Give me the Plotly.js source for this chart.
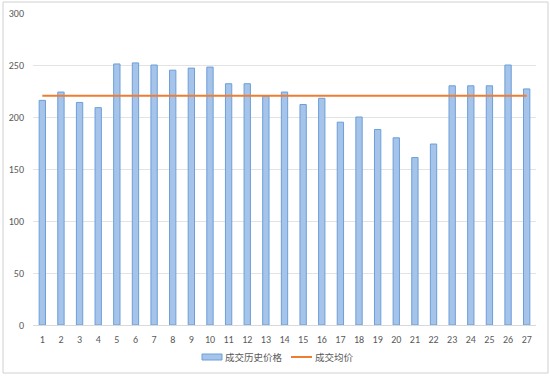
<!DOCTYPE html>
<html>
<head>
<meta charset="utf-8">
<script src="https://cdn.plot.ly/plotly-3.0.1.min.js"></script>
<style>
html,body{margin:0;padding:0;background:#fff;}
#chart{width:550px;height:376px;}
</style>
</head>
<body>
<div id="chart"></div>
<script>
const categories = ["1","2","3","4","5","6","7","8","9","10","11","12","13","14","15","16","17","18","19","20","21","22","23","24","25","26","27"];
const historyPrice = [216,224,214,209,251,252,250,245,247,248,232,232,220,224,212,218,195,200,188,180,161,174,230,230,230,250,227];
const avgPrice = [220.5,220.5,220.5,220.5,220.5,220.5,220.5,220.5,220.5,220.5,220.5,220.5,220.5,220.5,220.5,220.5,220.5,220.5,220.5,220.5,220.5,220.5,220.5,220.5,220.5,220.5,220.5];
const yTicks = [0,50,100,150,200,250,300];
const seriesNames = ["成交历史价格","成交均价"];

const font = "Calibri, Carlito, 'Liberation Sans', 'Noto Sans CJK SC', sans-serif";

const traces = [
  {
    type: "bar",
    x: categories,
    y: historyPrice,
    name: seriesNames[0],
    width: 0.34,
    marker: {color: "#a6c4ea", line: {color: "#6b9fd9", width: 1}},
    showlegend: false,
    hoverinfo: "x+y"
  },
  {
    type: "scatter",
    mode: "lines",
    x: categories,
    y: avgPrice,
    name: seriesNames[1],
    line: {color: "#ed7d31", width: 2},
    showlegend: false
  }
];

const px = v => (v - 33) / 503;
const py = v => (325 - v) / 312;

const layout = {
  width: 550,
  height: 376,
  margin: {l: 33, r: 14, t: 13, b: 51},
  paper_bgcolor: "#ffffff",
  plot_bgcolor: "#ffffff",
  font: {family: font, size: 10, color: "#595959"},
  xaxis: {
    type: "category",
    tickvals: categories,
    ticktext: categories,
    showgrid: false,
    zeroline: false,
    showline: true,
    linecolor: "#d9d9d9",
    linewidth: 1,
    ticks: "",
    ticklabelstandoff: 5,
    tickfont: {family: font, size: 10, color: "#595959"},
    range: [-0.5, 26.5],
    fixedrange: true
  },
  yaxis: {
    range: [0, 300],
    tickvals: yTicks,
    ticktext: yTicks.map(String),
    showgrid: true,
    gridcolor: "#e3e3e3",
    gridwidth: 1,
    zeroline: false,
    showline: false,
    ticks: "",
    ticklabelstandoff: 8,
    tickfont: {family: font, size: 10, color: "#595959"},
    fixedrange: true
  },
  shapes: [
    // chart outer border
    {type: "rect", xref: "paper", yref: "paper", x0: px(3), x1: px(548), y0: py(373), y1: py(2),
     line: {color: "#d0d0d0", width: 1}, fillcolor: "rgba(0,0,0,0)", layer: "below"},
    // legend swatches
    {type: "rect", xref: "paper", yref: "paper", x0: px(202), x1: px(222), y0: py(360), y1: py(354),
     fillcolor: "#a6c4ea", line: {color: "#6b9fd9", width: 1}},
    {type: "line", xref: "paper", yref: "paper", x0: px(291), x1: px(312), y0: py(357), y1: py(357),
     line: {color: "#ed7d31", width: 2}}
  ],
  annotations: [
    {xref: "paper", yref: "paper", x: px(223), y: py(357), xanchor: "left", yanchor: "middle",
     text: seriesNames[0], showarrow: false, font: {family: "'Noto Sans CJK SC', sans-serif", size: 9.5, color: "#595959"}},
    {xref: "paper", yref: "paper", x: px(313), y: py(357), xanchor: "left", yanchor: "middle",
     text: seriesNames[1], showarrow: false, font: {family: "'Noto Sans CJK SC', sans-serif", size: 9.5, color: "#595959"}}
  ],
  showlegend: false
};

Plotly.newPlot("chart", traces, layout, {displayModeBar: false, staticPlot: true});
</script>
</body>
</html>
